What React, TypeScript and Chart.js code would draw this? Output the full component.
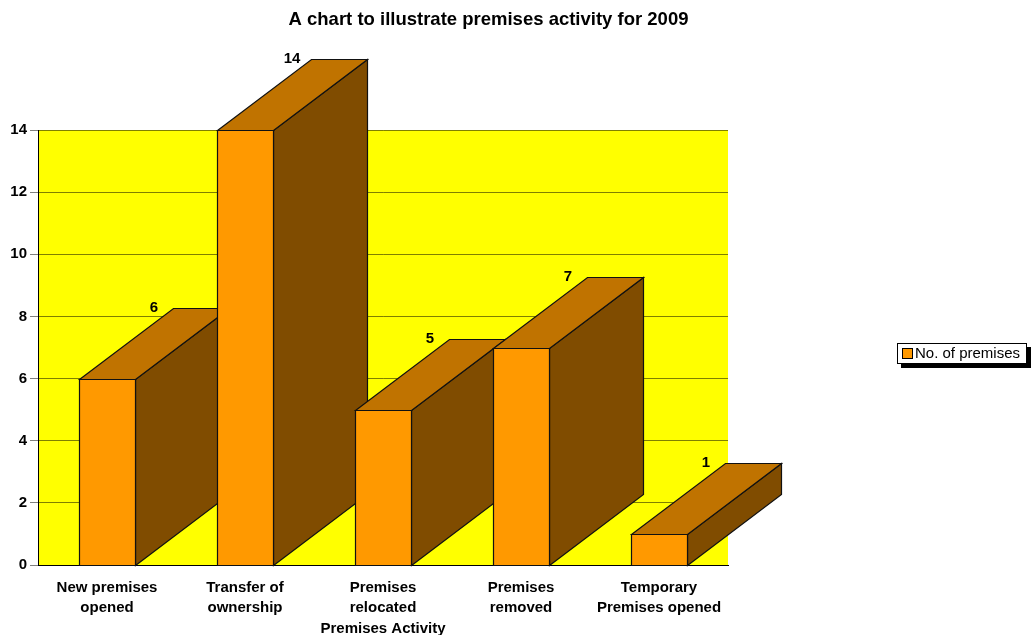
import React, { useEffect, useRef } from "react";
import { Chart, registerables } from "chart.js";

Chart.register(...registerables);

const titleText = "A chart to illustrate premises activity for 2009";
const xAxisTitle = "Premises Activity";
const categories: string[][] = [
  ["New premises", "opened"],
  ["Transfer of", "ownership"],
  ["Premises", "relocated"],
  ["Premises", "removed"],
  ["Temporary", "Premises opened"],
];
const seriesName = "No. of premises";
const seriesValues = [6, 14, 5, 7, 1];
const yTicks = [0, 2, 4, 6, 8, 10, 12, 14];

const FONT = "'Liberation Sans', Arial, sans-serif";
const FRONT = "#FF9900";
const TOP = "#C07300";
const SIDE = "#804C00";
const DX = 94;
const DY = -71;

const threeD = {
  id: "threeD",
  beforeDraw(chart: any) {
    const { ctx, chartArea } = chart;
    ctx.save();
    ctx.fillStyle = "#FFFFFF";
    ctx.fillRect(0, 0, chart.width, chart.height);
    ctx.fillStyle = "#FFFF00";
    ctx.fillRect(chartArea.left, chartArea.top, chartArea.right - chartArea.left, chartArea.bottom - chartArea.top);
    ctx.restore();
  },
  afterDatasetsDraw(chart: any) {
    const { ctx } = chart;
    const meta = chart.getDatasetMeta(0);
    ctx.save();
    ctx.lineWidth = 1.2;
    ctx.strokeStyle = "#111";
    ctx.lineJoin = "miter";
    meta.data.forEach((el: any) => {
      const p = el.getProps(["x", "y", "base", "width"], true);
      const l = Math.round(p.x - p.width / 2) + 0.5;
      const r = Math.round(p.x + p.width / 2) + 0.5;
      const t = Math.round(p.y) + 0.5;
      const b = Math.round(p.base) + 0.5;
      const poly = (pts: number[][], fill: string) => {
        ctx.beginPath();
        ctx.moveTo(pts[0][0], pts[0][1]);
        for (let k = 1; k < pts.length; k++) ctx.lineTo(pts[k][0], pts[k][1]);
        ctx.closePath();
        ctx.fillStyle = fill;
        ctx.fill();
        ctx.stroke();
      };
      poly([[r, t], [r + DX, t + DY], [r + DX, b + DY], [r, b]], SIDE);
      poly([[l, t], [l + DX, t + DY], [r + DX, t + DY], [r, t]], TOP);
      poly([[l, t], [r, t], [r, b], [l, b]], FRONT);
    });
    ctx.font = `bold 15px ${FONT}`;
    ctx.fillStyle = "#000";
    ctx.textAlign = "center";
    ctx.textBaseline = "middle";
    meta.data.forEach((el: any, i: number) => {
      const p = el.getProps(["x", "y"], true);
      ctx.fillText(String(seriesValues[i]), p.x + DX / 2, p.y + DY);
    });
    ctx.restore();
  },
  afterDraw(chart: any) {
    const { ctx } = chart;
    ctx.save();
    ctx.font = `bold 18.5px ${FONT}`;
    ctx.fillStyle = "#000";
    ctx.textAlign = "center";
    ctx.textBaseline = "middle";
    ctx.fillText(titleText, 488.5, 19.5);
    // legend
    const bx = 897, by = 343, bw = 129, bh = 20;
    ctx.fillStyle = "#000";
    ctx.fillRect(bx + 4, by + 4, bw + 1, bh + 1);
    ctx.fillStyle = "#FFF";
    ctx.fillRect(bx, by, bw, bh);
    ctx.strokeStyle = "#000";
    ctx.lineWidth = 1;
    ctx.strokeRect(bx + 0.5, by + 0.5, bw, bh);
    ctx.fillStyle = FRONT;
    ctx.fillRect(903, 349, 9, 9);
    ctx.strokeRect(902.5, 348.5, 10, 10);
    ctx.fillStyle = "#000";
    ctx.font = `15px ${FONT}`;
    ctx.textAlign = "left";
    ctx.fillText(seriesName, 915, 354);
    ctx.restore();
  },
};

export default function App() {
  const ref = useRef<HTMLCanvasElement>(null);
  useEffect(() => {
    document.body.style.margin = "0";
    if (!ref.current) return;
    const chart = new Chart(ref.current, {
      type: "bar",
      data: {
        labels: categories,
        datasets: [
          {
            label: seriesName,
            data: seriesValues,
            backgroundColor: "rgba(0,0,0,0)",
            borderWidth: 0,
            barPercentage: 0.4,
            categoryPercentage: 1,
          },
        ],
      },
      options: {
        responsive: false,
        animation: false,
        layout: { padding: { top: 130, right: 305, left: 0, bottom: 0 } },
        plugins: {
          legend: { display: false },
          title: { display: false },
          tooltip: { enabled: false },
        },
        scales: {
          x: {
            grid: { display: false, drawTicks: false },
            border: { display: true, color: "#000", width: 1 },
            ticks: {
              color: "#000",
              font: { family: FONT, size: 15, weight: "bold", lineHeight: 1.333 },
              padding: 12.5,
              maxRotation: 0,
              autoSkip: false,
            },
            title: {
              display: true,
              text: xAxisTitle,
              color: "#000",
              font: { family: FONT, size: 15, weight: "bold" },
              padding: { top: 0, bottom: -3 },
            },
            afterFit(scale: any) {
              scale.height = 70;
            },
          },
          y: {
            min: 0,
            max: 14,
            afterBuildTicks(scale: any) {
              scale.ticks = yTicks.map((v) => ({ value: v }));
            },
            grid: { color: "rgba(0,0,0,0.5)", tickLength: 8, lineWidth: 1 },
            border: { display: true, color: "#000", width: 1 },
            ticks: {
              color: "#000",
              font: { family: FONT, size: 15, weight: "bold" },
              padding: 3,
            },
            afterFit(scale: any) {
              scale.width = 38;
            },
          },
        },
      },
      plugins: [threeD],
    });
    return () => chart.destroy();
  }, []);
  return (
    <div style={{ width: 1033, height: 635 }}>
      <canvas ref={ref} width={1033} height={635} />
    </div>
  );
}
